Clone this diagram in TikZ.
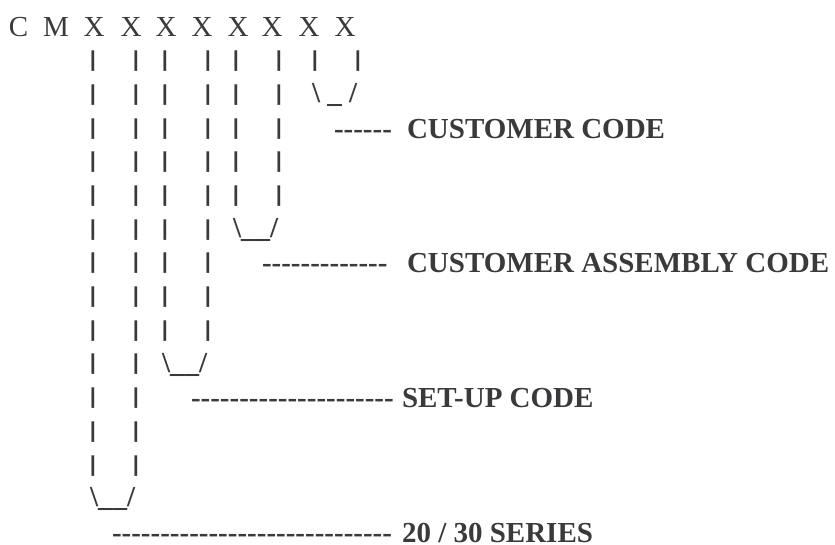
\documentclass[tikz,border=0pt]{standalone}
\usepackage{fontspec}
\setmainfont{Liberation Serif}
\definecolor{ink}{RGB}{58,58,60}
\newcommand\hyphenrun[1]{\foreach \k in {1,...,#1}{\mbox{-}}}
\begin{document}
\begin{tikzpicture}[x=1pt,y=-1pt,
  every node/.style={inner sep=0pt,outer sep=0pt,text=ink},
  reg/.style={font=\fontsize{29}{29}\selectfont},
  head/.style={reg,anchor=base},
  barglyph/.style={reg,anchor=center},
  hook/.style={reg,anchor=west},
  dashrow/.style={anchor=base west,font=\fontsize{29}{29}\selectfont\bfseries},
  lbl/.style={anchor=base west,font=\fontsize{29}{29}\selectfont\bfseries}]
\fill[white] (0,0) rectangle (835,545);
\useasboundingbox (0,0) rectangle (835,545);
% header
\foreach \x/\t [count=\i] in {18.5/C,56/M,94/X,131/X,166/X,202/X,238/X,272/X,309/X,345/X}
  \node[head] (h\i) at (\x,37) {\t};
% bars: row index / list of x
\foreach \r/\xs in {1/{93,136,165,208,236,279,315,358},
                    2/{93,136,165,208,236,279},
                    3/{93,136,165,208,236,279},
                    4/{93,136,165,208,236,279},
                    5/{93,136,165,208,236,279},
                    6/{93,136,165,208},
                    7/{93,136,165,208},
                    8/{93,136,165,208},
                    9/{93,136,165,208},
                    10/{93,136},
                    11/{93,136},
                    12/{93,136},
                    13/{93,136}}{
  \foreach \x [count=\j] in \xs
    \node[barglyph] (b\r-\j) at (\x,27.5+33.7*\r) {\scalebox{1.35}[0.78]{\bfseries |}};
}
% closing hooks
\node[hook] (k1) at (312,27.5+33.7*2) {\bfseries\textbackslash\ \_ /};
\node[hook] (k2) at (233,27.5+33.7*6) {\bfseries\textbackslash\_\_/};
\node[hook] (k3) at (162,27.5+33.7*10) {\bfseries\textbackslash\_\_/};
\node[hook] (k4) at (90,27.5+33.7*14) {\bfseries\textbackslash\_\_/};
% dashed leaders and labels
\node[dashrow] (d1) at (334,37+33.7*3) {\hyphenrun{6}};
\node[lbl] (l1) at (407,37+33.7*3) {CUSTOMER CODE};
\node[dashrow] (d2) at (262,37+33.7*7) {\hyphenrun{13}};
\node[lbl] (l2) at (407,37+33.7*7) {CUSTOMER ASSEMBLY CODE};
\node[dashrow] (d3) at (191,37+33.7*11) {\hyphenrun{21}};
\node[lbl] (l3) at (402,37+33.7*11) {SET-UP CODE};
\node[dashrow] (d4) at (112,37+33.7*15) {\hyphenrun{29}};
\node[lbl] (l4) at (402,37+33.7*15) {20 / 30 SERIES};
\end{tikzpicture}
\end{document}
